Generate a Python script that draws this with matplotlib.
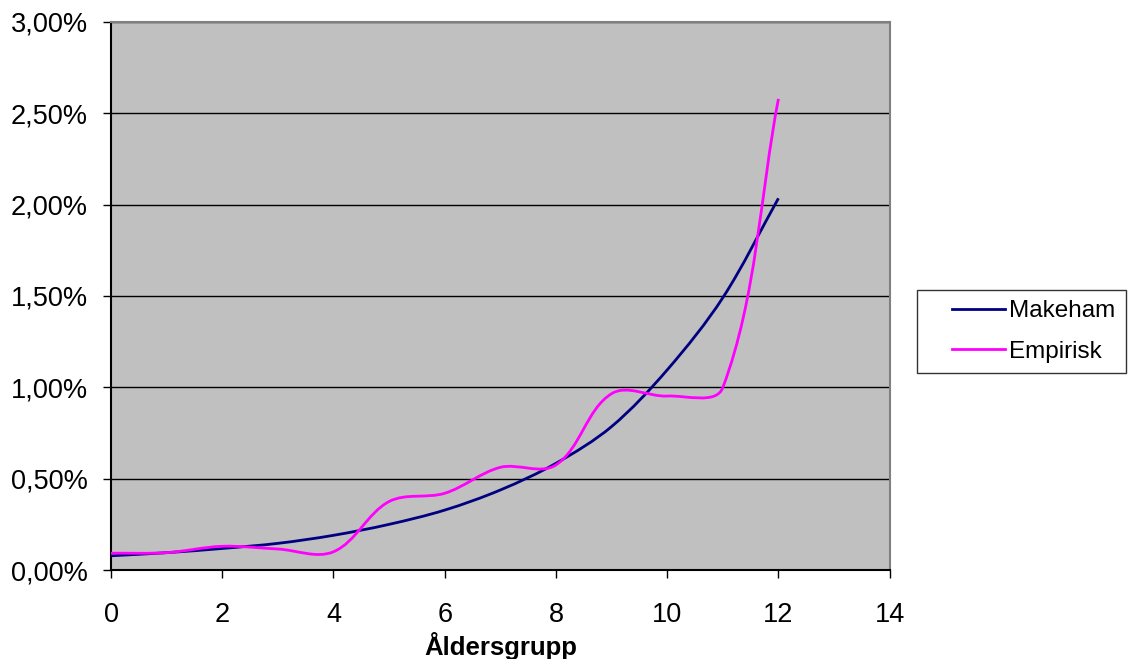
import numpy as np
import matplotlib.pyplot as plt
from matplotlib.path import Path
from matplotlib.patches import PathPatch
from matplotlib.lines import Line2D
from matplotlib.legend_handler import HandlerLine2D
from matplotlib.ticker import FuncFormatter

plt.rcParams['font.family'] = ['Liberation Sans', 'DejaVu Sans']

# age groups and mortality (%)
groups = [0, 1, 2, 3, 4, 5, 6, 7, 8, 9, 10, 11, 12]
makeham = [0.078, 0.095, 0.118, 0.146, 0.190, 0.250, 0.328, 0.438, 0.584, 0.785, 1.095, 1.49, 2.034]
empirisk = [0.092, 0.095, 0.130, 0.115, 0.100, 0.375, 0.420, 0.562, 0.575, 0.965, 0.952, 0.998, 2.578]

# rough pixels per unit, so the smoothing works in screen proportions
XS, YS = 55.6, 182.7


def smooth_path(x, y, k=0.33):
    # Excel style smoothed line: bezier with tangents scaled by segment length
    pts = np.column_stack([np.array(x) * XS, np.array(y) * YS]).astype(float)
    n = len(pts)
    tang = []
    for i in range(n):
        d = pts[min(i + 1, n - 1)] - pts[max(i - 1, 0)]
        tang.append(d / np.hypot(*d))
    verts = [pts[0]]
    codes = [Path.MOVETO]
    for i in range(n - 1):
        L = np.hypot(*(pts[i + 1] - pts[i]))
        c1 = pts[i] + tang[i] * L * k
        c2 = pts[i + 1] - tang[i + 1] * L * k
        verts += [c1, c2, pts[i + 1]]
        codes += [Path.CURVE4] * 3
    verts = np.array(verts) / [XS, YS]
    return Path(verts, codes)


class IndentedLine(HandlerLine2D):
    # legend line that leaves some room on the left, like Excel does
    def create_artists(self, legend, orig_handle, xdescent, ydescent,
                       width, height, fontsize, trans):
        arts = super().create_artists(legend, orig_handle, xdescent, ydescent,
                                      width, height, fontsize, trans)
        for a in arts:
            if isinstance(a, Line2D):
                nx = len(a.get_xdata())
                a.set_xdata(np.linspace(width * 0.32 - xdescent, width - xdescent, nx))
        return arts


fig = plt.figure(figsize=(11.4, 6.59), dpi=100)
ax = fig.add_axes([0.0974, 0.135, 0.683, 0.832])
ax.set_facecolor('#c0c0c0')

ax.add_patch(PathPatch(smooth_path(groups, makeham), facecolor='none',
                       edgecolor='#000080', lw=2, zorder=3))
ax.add_patch(PathPatch(smooth_path(groups, empirisk), facecolor='none',
                       edgecolor='#ff00ff', lw=2, zorder=3))

ax.set_xlim(0, 14)
ax.set_ylim(0, 3.0)
ax.set_xticks(range(0, 15, 2))
ax.set_yticks(np.arange(0, 3.01, 0.5))
ax.yaxis.set_major_formatter(FuncFormatter(lambda v, p: ('%.2f%%' % v).replace('.', ',')))
ax.grid(axis='y', color='black', lw=1)
ax.set_axisbelow(True)
ax.tick_params(labelsize=19.5, direction='out', length=6, width=1, color='black')
ax.tick_params(axis='x', pad=17)
ax.tick_params(axis='y', pad=10.5)
for s in ax.spines.values():
    s.set_color('#808080')
    s.set_linewidth(1.5)
ax.spines['left'].set_color('black')
ax.spines['bottom'].set_color('black')

ax.set_xlabel('Åldersgrupp', fontsize=18.5, fontweight='bold', labelpad=3)

handles = [Line2D([], [], color='#000080', lw=2), Line2D([], [], color='#ff00ff', lw=2)]
leg = fig.legend(handles, ['Makeham', 'Empirisk'], loc='upper left',
                 bbox_to_anchor=(0.804, 0.56), borderaxespad=0, fontsize=17.5,
                 frameon=True, fancybox=False, handlelength=3.2, handletextpad=0.2,
                 borderpad=0.42, labelspacing=0.76,
                 handler_map={Line2D: IndentedLine()})
leg.get_frame().set_edgecolor('black')
leg.get_frame().set_linewidth(1)

plt.savefig('out.png')
